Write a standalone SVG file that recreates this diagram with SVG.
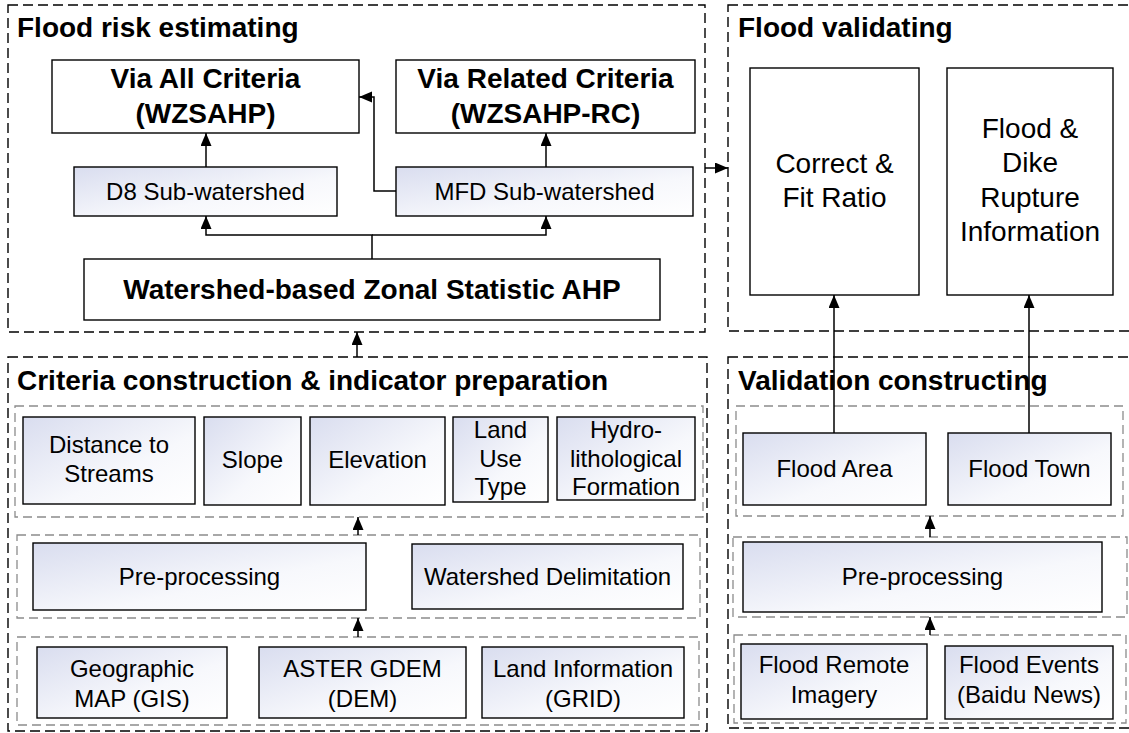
<svg xmlns="http://www.w3.org/2000/svg" width="1129" height="733" viewBox="0 0 1129 733">
<defs>
<linearGradient id="g" x1="0" y1="0" x2="1" y2="1">
<stop offset="0" stop-color="#d9ddef"/>
<stop offset="0.6" stop-color="#f7f8fc"/>
<stop offset="1" stop-color="#ffffff"/>
</linearGradient>
<marker id="ah" markerUnits="userSpaceOnUse" markerWidth="14" markerHeight="12" refX="13" refY="5.5" orient="auto">
<path d="M0,0 L13,5.5 L0,11 z" fill="#000"/>
</marker>
<style>
.panel{fill:none;stroke:#000;stroke-width:1.4;stroke-dasharray:10 5}
.inner{fill:none;stroke:#8c8c8c;stroke-width:1.3;stroke-dasharray:9 5}
.box{fill:#fff;stroke:#000;stroke-width:1.4}
.gbox{fill:url(#g);stroke:#000;stroke-width:1.4}
.title{font-family:"Liberation Sans",Arial,sans-serif;font-weight:bold;font-size:28px;fill:#000}
.bt{font-family:"Liberation Sans",Arial,sans-serif;font-weight:bold;font-size:28px;fill:#000;text-anchor:middle}
.t28{font-family:"Liberation Sans",Arial,sans-serif;font-size:28px;fill:#000;text-anchor:middle}
.t{font-family:"Liberation Sans",Arial,sans-serif;font-size:24px;fill:#000;text-anchor:middle}
.c{fill:none;stroke:#000;stroke-width:1.5}
</style>
</defs>
<rect width="1129" height="733" fill="#fff"/>

<g id="panel-risk">
<rect class="panel" x="8" y="5" width="697" height="327"/>
<text class="title" x="17" y="37">Flood risk estimating</text>
</g>
<g id="panel-validating">
<rect class="panel" x="728" y="5" width="420" height="326"/>
<text class="title" x="738" y="37">Flood validating</text>
</g>
<g id="panel-criteria">
<rect class="panel" x="8" y="357" width="699" height="374"/>
<text class="title" x="17" y="390">Criteria construction &amp; indicator preparation</text>
<rect class="inner" x="15" y="406" width="688" height="111"/>
<rect class="inner" x="17" y="535" width="683" height="83"/>
<rect class="inner" x="17" y="637" width="682" height="88"/>
</g>
<g id="panel-validation">
<rect class="panel" x="728" y="357" width="420" height="371"/>
<text class="title" x="738" y="390">Validation constructing</text>
<rect class="inner" x="736" y="406" width="387" height="110"/>
<rect class="inner" x="733" y="537" width="394" height="80"/>
<rect class="inner" x="734" y="635" width="392" height="88"/>
</g>

<g id="via-all">
<rect class="box" x="52" y="60" width="307" height="73"/>
<text class="bt" x="205.5" y="88">Via  All Criteria</text>
<text class="bt" x="205.5" y="123">(WZSAHP)</text>
</g>
<g id="via-related">
<rect class="box" x="396" y="60" width="299" height="73"/>
<text class="bt" x="545.5" y="88">Via Related Criteria</text>
<text class="bt" x="545.5" y="123">(WZSAHP-RC)</text>
</g>
<g id="d8">
<rect class="gbox" x="74" y="167" width="263" height="49"/>
<text class="t" x="205.5" y="200">D8 Sub-watershed</text>
</g>
<g id="mfd">
<rect class="gbox" x="396" y="167" width="297" height="49"/>
<text class="t" x="544.5" y="200">MFD Sub-watershed</text>
</g>
<g id="wzsahp">
<rect class="box" x="84" y="259" width="576" height="61"/>
<text class="bt" x="372" y="299">Watershed-based Zonal Statistic AHP</text>
</g>
<g id="correct">
<rect class="box" x="750" y="68" width="169" height="227"/>
<text class="t28" x="834.5" y="173">Correct &amp;</text>
<text class="t28" x="834.5" y="207">Fit Ratio</text>
</g>
<g id="dike">
<rect class="box" x="947" y="68" width="166" height="227"/>
<text class="t28" x="1030" y="138">Flood &amp;</text>
<text class="t28" x="1030" y="172">Dike</text>
<text class="t28" x="1030" y="207">Rupture</text>
<text class="t28" x="1030" y="241">Information</text>
</g>

<g id="distance">
<rect class="gbox" x="23" y="417" width="172" height="87"/>
<text class="t" x="109" y="453">Distance to</text>
<text class="t" x="109" y="482">Streams</text>
</g>
<g id="slope">
<rect class="gbox" x="204" y="417" width="97" height="88"/>
<text class="t" x="252.5" y="468">Slope</text>
</g>
<g id="elevation">
<rect class="gbox" x="310" y="417" width="135" height="88"/>
<text class="t" x="377.5" y="468">Elevation</text>
</g>
<g id="landuse">
<rect class="gbox" x="453" y="417" width="95" height="85"/>
<text class="t" x="500.5" y="438">Land</text>
<text class="t" x="500.5" y="467">Use</text>
<text class="t" x="500.5" y="495">Type</text>
</g>
<g id="hydro">
<rect class="gbox" x="557" y="417" width="138" height="83"/>
<text class="t" x="626" y="438">Hydro-</text>
<text class="t" x="626" y="467">lithological</text>
<text class="t" x="626" y="495">Formation</text>
</g>
<g id="preproc-left">
<rect class="gbox" x="33" y="543" width="333" height="67"/>
<text class="t" x="199.5" y="585">Pre-processing</text>
</g>
<g id="delimitation">
<rect class="gbox" x="412" y="544" width="271" height="65"/>
<text class="t" x="547.5" y="585">Watershed Delimitation</text>
</g>
<g id="geomap">
<rect class="gbox" x="37" y="647" width="190" height="71"/>
<text class="t" x="132" y="677">Geographic</text>
<text class="t" x="132" y="707">MAP (GIS)</text>
</g>
<g id="aster">
<rect class="gbox" x="259" y="647" width="207" height="71"/>
<text class="t" x="362.5" y="677">ASTER GDEM</text>
<text class="t" x="362.5" y="707">(DEM)</text>
</g>
<g id="landinfo">
<rect class="gbox" x="482" y="647" width="202" height="71"/>
<text class="t" x="583" y="677">Land Information</text>
<text class="t" x="583" y="707">(GRID)</text>
</g>

<g id="floodarea">
<rect class="gbox" x="743" y="433" width="183" height="72"/>
<text class="t" x="834.5" y="477">Flood Area</text>
</g>
<g id="floodtown">
<rect class="gbox" x="948" y="433" width="163" height="72"/>
<text class="t" x="1029.5" y="477">Flood Town</text>
</g>
<g id="preproc-right">
<rect class="gbox" x="743" y="542" width="359" height="70"/>
<text class="t" x="922.5" y="585">Pre-processing</text>
</g>
<g id="remote">
<rect class="gbox" x="741" y="644" width="186" height="75"/>
<text class="t" x="834" y="673">Flood Remote</text>
<text class="t" x="834" y="703">Imagery</text>
</g>
<g id="events">
<rect class="gbox" x="945" y="646" width="168" height="73"/>
<text class="t" x="1029" y="673">Flood Events</text>
<text class="t" x="1029" y="703">(Baidu News)</text>
</g>

<g id="connectors">
<path class="c" d="M206,167 V133" marker-end="url(#ah)"/>
<path class="c" d="M546,167 V133" marker-end="url(#ah)"/>
<path class="c" d="M396,191 H374 V97 H359" marker-end="url(#ah)"/>
<path class="c" d="M372,259 V235 H206 V216" marker-end="url(#ah)"/>
<path class="c" d="M372,235 H546 V216" marker-end="url(#ah)"/>
<path class="c" d="M705,168 H728" marker-end="url(#ah)"/>
<path class="c" d="M357,357 V332" marker-end="url(#ah)"/>
<path class="c" d="M358,535 V517" marker-end="url(#ah)"/>
<path class="c" d="M358,637 V618" marker-end="url(#ah)"/>
<path class="c" d="M834,433 V295" marker-end="url(#ah)"/>
<path class="c" d="M1029,433 V295" marker-end="url(#ah)"/>
<path class="c" d="M930,537 V516" marker-end="url(#ah)"/>
<path class="c" d="M930,635 V617" marker-end="url(#ah)"/>
</g>
</svg>
